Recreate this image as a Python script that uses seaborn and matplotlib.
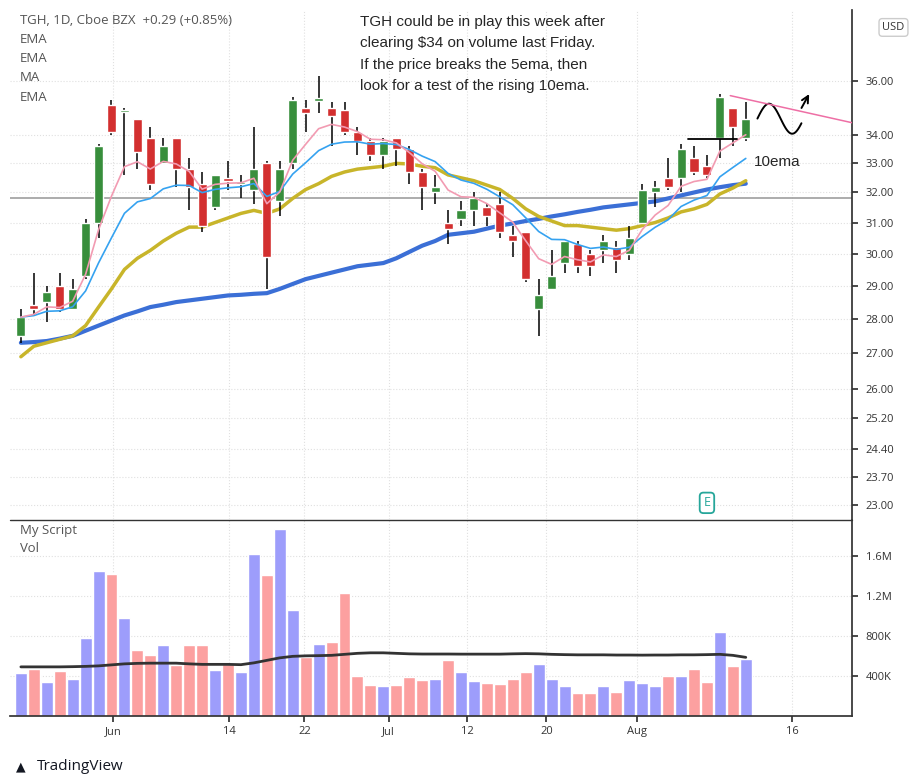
import numpy as np
import pandas as pd
import matplotlib
matplotlib.use("Agg")
import matplotlib.pyplot as plt
import seaborn as sns

# ---------------- data ----------------
opens  = [27.5,28.4,28.5,29.0,28.3,29.3,31.0,35.1,34.85,34.6,33.9,33.0,33.9,32.8,32.3,31.5,32.5,32.3,32.1,33.0,
          31.7,33.0,35.0,35.25,35.0,34.9,34.1,33.8,33.3,33.9,33.5,32.7,32.0,31.0,31.1,31.4,31.5,31.6,30.6,30.7,
          28.3,28.9,29.7,30.3,30.0,30.1,30.2,30.0,31.0,32.0,32.5,32.5,33.2,32.9,33.9,35.0,33.9]
highs  = [28.3,29.4,29.0,29.4,29.2,31.1,33.7,35.3,35.0,34.6,34.3,33.9,33.9,33.2,32.7,32.6,33.1,32.6,34.3,33.1,
          33.1,35.4,35.3,36.2,35.2,35.2,34.3,33.9,33.9,33.9,33.6,32.8,32.6,31.4,31.7,32.0,31.6,32.0,30.9,30.7,
          29.2,30.1,30.4,30.4,30.1,30.6,30.4,30.9,32.3,32.4,33.2,33.7,33.6,33.3,35.5,35.0,35.2]
lows   = [27.3,28.1,27.9,28.2,28.3,29.2,30.5,34.0,32.6,32.8,32.1,33.0,32.2,31.4,30.7,31.4,32.1,31.8,31.6,28.9,
          31.2,32.8,34.1,34.8,33.6,34.0,33.3,33.1,32.8,32.9,32.3,31.4,31.6,30.3,30.9,30.9,30.9,30.5,29.9,29.1,
          27.5,28.9,29.4,29.4,29.3,29.7,29.4,29.8,31.0,31.5,32.1,32.0,32.6,32.5,33.2,33.6,33.8]
closes = [28.05,28.3,28.8,28.3,28.9,31.0,33.6,34.1,34.9,33.4,32.3,33.6,32.8,32.2,30.9,32.6,32.4,32.35,32.8,29.9,
          32.8,35.3,34.8,35.35,34.7,34.1,33.8,33.3,33.8,33.5,32.7,32.2,32.2,30.8,31.4,31.8,31.2,30.7,30.4,29.2,
          28.7,29.3,30.4,29.6,29.6,30.4,29.8,30.5,32.1,32.2,32.2,33.5,32.7,32.6,35.4,34.3,34.6]
ema_slow = [26.9,27.2,27.3,27.4,27.5,27.8,28.35,28.9,29.5,29.85,30.1,30.4,30.65,30.85,30.85,31.0,31.15,31.3,31.4,31.3,
            31.45,31.8,32.1,32.3,32.55,32.7,32.8,32.85,32.9,33.0,32.98,32.9,32.85,32.6,32.5,32.4,32.25,32.1,31.8,31.45,
            31.2,31.05,30.9,30.9,30.85,30.8,30.75,30.8,30.9,31.0,31.15,31.35,31.45,31.6,31.95,32.15,32.4]
ma_long = [27.3,27.32,27.35,27.42,27.5,27.65,27.8,27.95,28.1,28.22,28.35,28.42,28.5,28.55,28.6,28.65,28.7,28.72,28.75,28.77,
           28.9,29.05,29.2,29.3,29.4,29.5,29.6,29.65,29.7,29.85,30.05,30.25,30.4,30.6,30.65,30.7,30.8,30.9,30.97,31.05,
           31.12,31.2,31.27,31.35,31.42,31.5,31.55,31.6,31.65,31.7,31.8,31.9,32.0,32.1,32.18,32.25,32.3]
volumes = [427,467,337,447,367,777,1447,1417,977,657,607,707,510,707,707,457,517,437,1617,1407,
           1867,1057,590,717,737,1227,397,307,297,307,387,357,367,557,437,347,327,317,367,437,
           517,367,297,227,227,297,237,357,327,297,397,397,467,337,837,497,567]
vol_up = "BRBRBBBRBRRBRRRBRBBRBBRBRRRRBRRRBRBBRRRRBBBRRBRBBBRBRRBRB"
vol_ma = [490,490,490,490,492,495,500,510,520,525,527,527,527,520,515,515,515,512,530,555,
          580,595,600,602,605,615,625,630,630,625,620,618,618,618,617,617,617,617,620,622,
          620,615,612,610,610,610,608,608,607,608,608,610,610,612,615,605,585]
date_labels = ["Jun", "14", "22", "Jul", "12", "20", "Aug", "16"]
date_pos    = [7.1, 16.1, 21.9, 28.4, 34.5, 40.6, 47.6, 59.6]
price_ticks = [23.0, 23.7, 24.4, 25.2, 26.0, 27.0, 28.0, 29.0, 30.0, 31.0, 32.0, 33.0, 34.0, 36.0]
vol_ticks = [400, 800, 1200, 1600]
vol_tick_labels = ["400K", "800K", "1.2M", "1.6M"]
support_level = 31.8
breakout_level = 33.85

# ---------------- figure ----------------
sns.set_theme(style="white")
plt.rcParams["font.family"] = "Open Sans"
fig = plt.figure(figsize=(9.22, 7.84), dpi=100)
ax = fig.add_axes([0.011, 0.338, 0.913, 0.649])
axv = fig.add_axes([0.011, 0.0867, 0.913, 0.2495], sharex=ax)

n = len(closes)
x = np.arange(n)
df = pd.DataFrame({"x": x, "close": closes, "ema_slow": ema_slow, "ma_long": ma_long,
                   "vol": volumes, "vol_ma": vol_ma})
df["ema5"] = df["close"].ewm(span=5, adjust=False).mean()
df["ema10"] = df["close"].ewm(span=10, adjust=False).mean()

GREEN, RED = "#388e3c", "#d32f2f"
for xi, o, h, l, c in zip(x, opens, highs, lows, closes):
    col = GREEN if c >= o else RED
    ax.vlines(xi, l, h, color="black", lw=1.1, zorder=3)
    lo, hi = min(o, c), max(o, c)
    if hi - lo < 0.06:
        hi = lo + 0.06
    ax.bar(xi, hi - lo, bottom=lo, width=0.7, color=col, zorder=4)

sns.lineplot(data=df, x="x", y="ma_long", ax=ax, color="#3b6fd6", lw=3, zorder=2)
sns.lineplot(data=df, x="x", y="ema_slow", ax=ax, color="#c8b52a", lw=2.5, zorder=2)
sns.lineplot(data=df, x="x", y="ema10", ax=ax, color="#35a2f0", lw=1.2, zorder=5)
sns.lineplot(data=df, x="x", y="ema5", ax=ax, color="#f29bb2", lw=1.2, zorder=5)

ax.axhline(support_level, color="#9e9e9e", lw=1.2, zorder=1)
ax.plot([51.5, 55.3], [breakout_level, breakout_level], color="black", lw=1.3, zorder=6)
ax.plot([54.8, 64.2], [35.45, 34.45], color="#ee6fa5", lw=1.1, zorder=6)
# hand-drawn squiggle arrow
sx = np.linspace(56.9, 60.3, 40)
sy = 34.6 + 0.55 * np.sin((sx - 56.9) / 3.4 * 2 * np.pi * 0.95)
ax.plot(sx, sy, color="black", lw=1.4)
ax.annotate("", xy=(61.0, 35.6), xytext=(60.2, 34.9),
            arrowprops=dict(arrowstyle="->", color="black", lw=1.4))
ax.text(56.6, 33.05, "10ema", fontsize=11, family="Liberation Sans", va="center")

ax.set_yscale("log")
ax.set_ylim(22.66, 38.8)
ax.set_xlim(-0.83, 64.2)
ax.yaxis.tick_right()
ax.set_yticks(price_ticks)
ax.set_yticklabels([f"{t:.2f}" for t in price_ticks], fontsize=8, color="#333333")
ax.yaxis.set_minor_locator(matplotlib.ticker.NullLocator())
ax.tick_params(axis="y", length=4, pad=6, right=True, color="#333333")
ax.tick_params(axis="x", bottom=False, labelbottom=False)
ax.grid(True, ls=":", color="#e0e0e0", lw=0.8)
ax.set_xlabel(""); ax.set_ylabel("")
for s in ["top", "left", "bottom"]:
    ax.spines[s].set_visible(False)
ax.spines["right"].set_color("#333333")

ax.text(0.012, 0.972, "TGH, 1D, Cboe BZX  +0.29 (+0.85%)", transform=ax.transAxes, fontsize=9.5, color="#555555")
for i, t in enumerate(["EMA", "EMA", "MA", "EMA"]):
    ax.text(0.012, 0.935 - i * 0.0375, t, transform=ax.transAxes, fontsize=9.5, color="#555555")
ax.text(0.416, 0.99,
        "TGH could be in play this week after\nclearing $34 on volume last Friday.\n"
        "If the price breaks the 5ema, then\nlook for a test of the rising 10ema.",
        transform=ax.transAxes, fontsize=11, va="top", linespacing=1.65, family="Liberation Sans")
ax.text(53.0, 23.05, "E", fontsize=9, color="#26a69a", ha="center", va="center",
        bbox=dict(boxstyle="round,pad=0.3", fc="white", ec="#26a69a", lw=1.3))
fig.text(0.957, 0.965, "USD", fontsize=8, color="#333333", ha="left", va="center",
         bbox=dict(boxstyle="round,pad=0.3", fc="white", ec="#cccccc"))

# volume
vcols = ["#9d9dfb" if c == "B" else "#fca0a0" for c in vol_up]
axv.bar(x, df["vol"], width=0.92, color=vcols, zorder=2)
sns.lineplot(data=df, x="x", y="vol_ma", ax=axv, color="#333333", lw=2, zorder=3)
axv.set_ylim(0, 1950)
axv.yaxis.tick_right()
axv.set_yticks(vol_ticks)
axv.set_yticklabels(vol_tick_labels, fontsize=8, color="#333333")
axv.tick_params(axis="y", length=4, pad=6, color="#333333")
axv.set_xticks(date_pos)
axv.set_xticklabels(date_labels, fontsize=8, color="#333333")
axv.tick_params(axis="x", length=4, bottom=True, color="#333333")
axv.grid(True, ls=":", color="#e0e0e0", lw=0.8)
axv.set_xlabel(""); axv.set_ylabel("")
axv.spines["top"].set_visible(False); axv.spines["left"].set_visible(False)
axv.spines["right"].set_color("#333333"); axv.spines["bottom"].set_color("#333333")
axv.text(0.012, 0.93, "My Script", transform=axv.transAxes, fontsize=9.5, color="#555555")
axv.text(0.012, 0.84, "Vol", transform=axv.transAxes, fontsize=9.5, color="#555555")
fig.add_artist(matplotlib.lines.Line2D([0.011, 0.924], [0.3365, 0.3365], color="#333333", lw=1))

fig.text(0.04, 0.022, "TradingView", fontsize=11, color="#131722", va="center")
fig.text(0.022, 0.022, "\u25b2", fontsize=9, color="#131722", va="center", ha="center",
         family="DejaVu Sans")

fig.savefig("out.png", dpi=100)
